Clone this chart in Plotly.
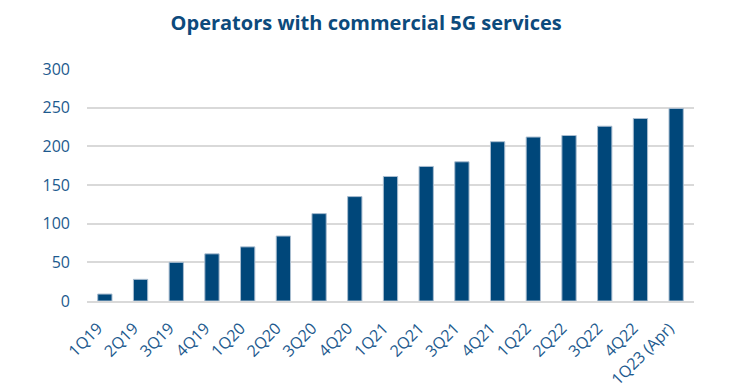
import plotly.graph_objects as go

quarters = ["1Q19", "2Q19", "3Q19", "4Q19", "1Q20", "2Q20", "3Q20", "4Q20",
            "1Q21", "2Q21", "3Q21", "4Q21", "1Q22", "2Q22", "3Q22", "4Q22", "1Q23 (Apr)"]
operators = [9, 28, 50, 61, 70, 84, 113, 135, 161, 174, 180, 206, 212, 214, 226, 236, 249]
y_ticks = [0, 50, 100, 150, 200, 250, 300]

fig = go.Figure(go.Bar(
    x=quarters, y=operators,
    marker=dict(color="#00477a", line=dict(color="#a9bdd0", width=1)),
    width=0.4,
))

fig.update_layout(
    width=740, height=384,
    margin=dict(l=79, r=54, t=61, b=91),
    paper_bgcolor="white", plot_bgcolor="white",
    title=dict(text="<b>Operators with commercial 5G services</b>", x=0.484, xanchor="center",
               y=0.961, yanchor="middle",
               font=dict(family="Open Sans", size=20, color="#0c4a7c")),
    font=dict(family="Open Sans", color="#1d5a8e"),
    showlegend=False,
    bargap=0.6,
)
fig.update_yaxes(range=[0, 300], tickvals=y_ticks, showgrid=True, gridcolor="#d9d9d9", gridwidth=1.5,
                 zeroline=False, tickfont=dict(size=16, color="#1d5a8e"), ticks="", showline=False,
                 ticklabelstandoff=16, automargin=False)
fig.update_xaxes(tickangle=-45, tickfont=dict(size=16, color="#1d5a8e"), showline=True,
                 linecolor="#d9d9d9", linewidth=1.5, ticks="", automargin=False,
                 ticklabelstandoff=10, ticklabelshift=-7)

fig.write_html("out.html")
